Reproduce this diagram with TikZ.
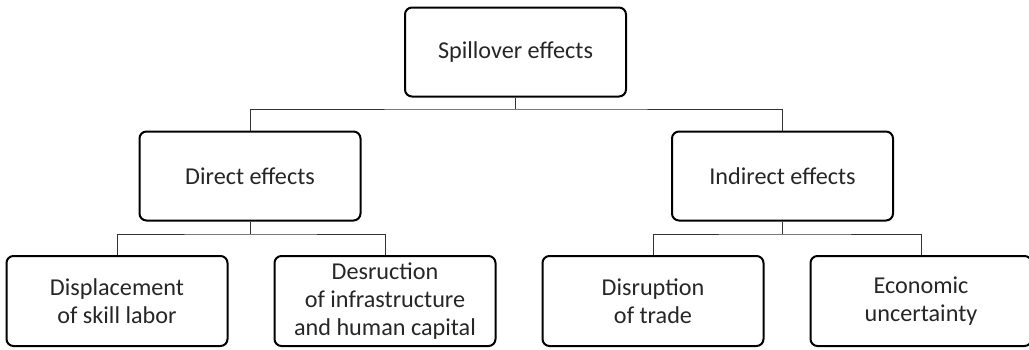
\documentclass[tikz,border=0pt]{standalone}
\usepackage{fontspec}
\setmainfont{Carlito}
\usepackage{tikz}
\usetikzlibrary{positioning, calc}

\tikzset{
  effbox/.style={draw, line width=1pt, rounded corners=3.5pt, minimum width=110.5pt,
    minimum height=44.5pt, align=center, text=black!85, font=\fontsize{12.1pt}{14pt}\selectfont},
  link/.style={draw=black!80, line width=0.5pt}
}

\begin{document}
\begin{tikzpicture}[x=0.5pt, y=-0.5pt, node distance=22.5pt]
  \useasboundingbox (0,0) rectangle (1029,349);

  \node[effbox] at (515.5,52) (spill) {Spillover effects};
  \node[effbox] at (250,176) (direct) {Direct effects};
  \node[effbox] at (782.5,176) (indirect) {Indirect effects};

  \node[effbox, minimum height=45pt] at (117,301) (displ) {Displacement\\of skill labor};
  \node[effbox, minimum height=45pt, right=of displ] (destr) {Desruction\\of infrastructure\\and human capital};
  \node[effbox, minimum height=45pt, right=of destr] (trade) {Disruption\\of trade};
  \node[effbox, minimum height=45pt, right=of trade] (uncert) {Economic\\uncertainty};

  % junctions
  \coordinate (j1) at ($(spill.south)+(0,11.5)$);
  \coordinate (j2) at ($(direct.south)+(0,12.5)$);
  \coordinate (j3) at ($(indirect.south)+(0,12.5)$);

  \draw[link] (spill.south) -- (j1);
  \draw[link] (direct.north) |- (j1) -| (indirect.north);

  \draw[link] (direct.south) -- (j2);
  \draw[link] (displ.north) |- (j2) -| (destr.north);

  \draw[link] (indirect.south) -- (j3);
  \draw[link] (trade.north) |- (j3) -| (uncert.north);
\end{tikzpicture}
\end{document}
